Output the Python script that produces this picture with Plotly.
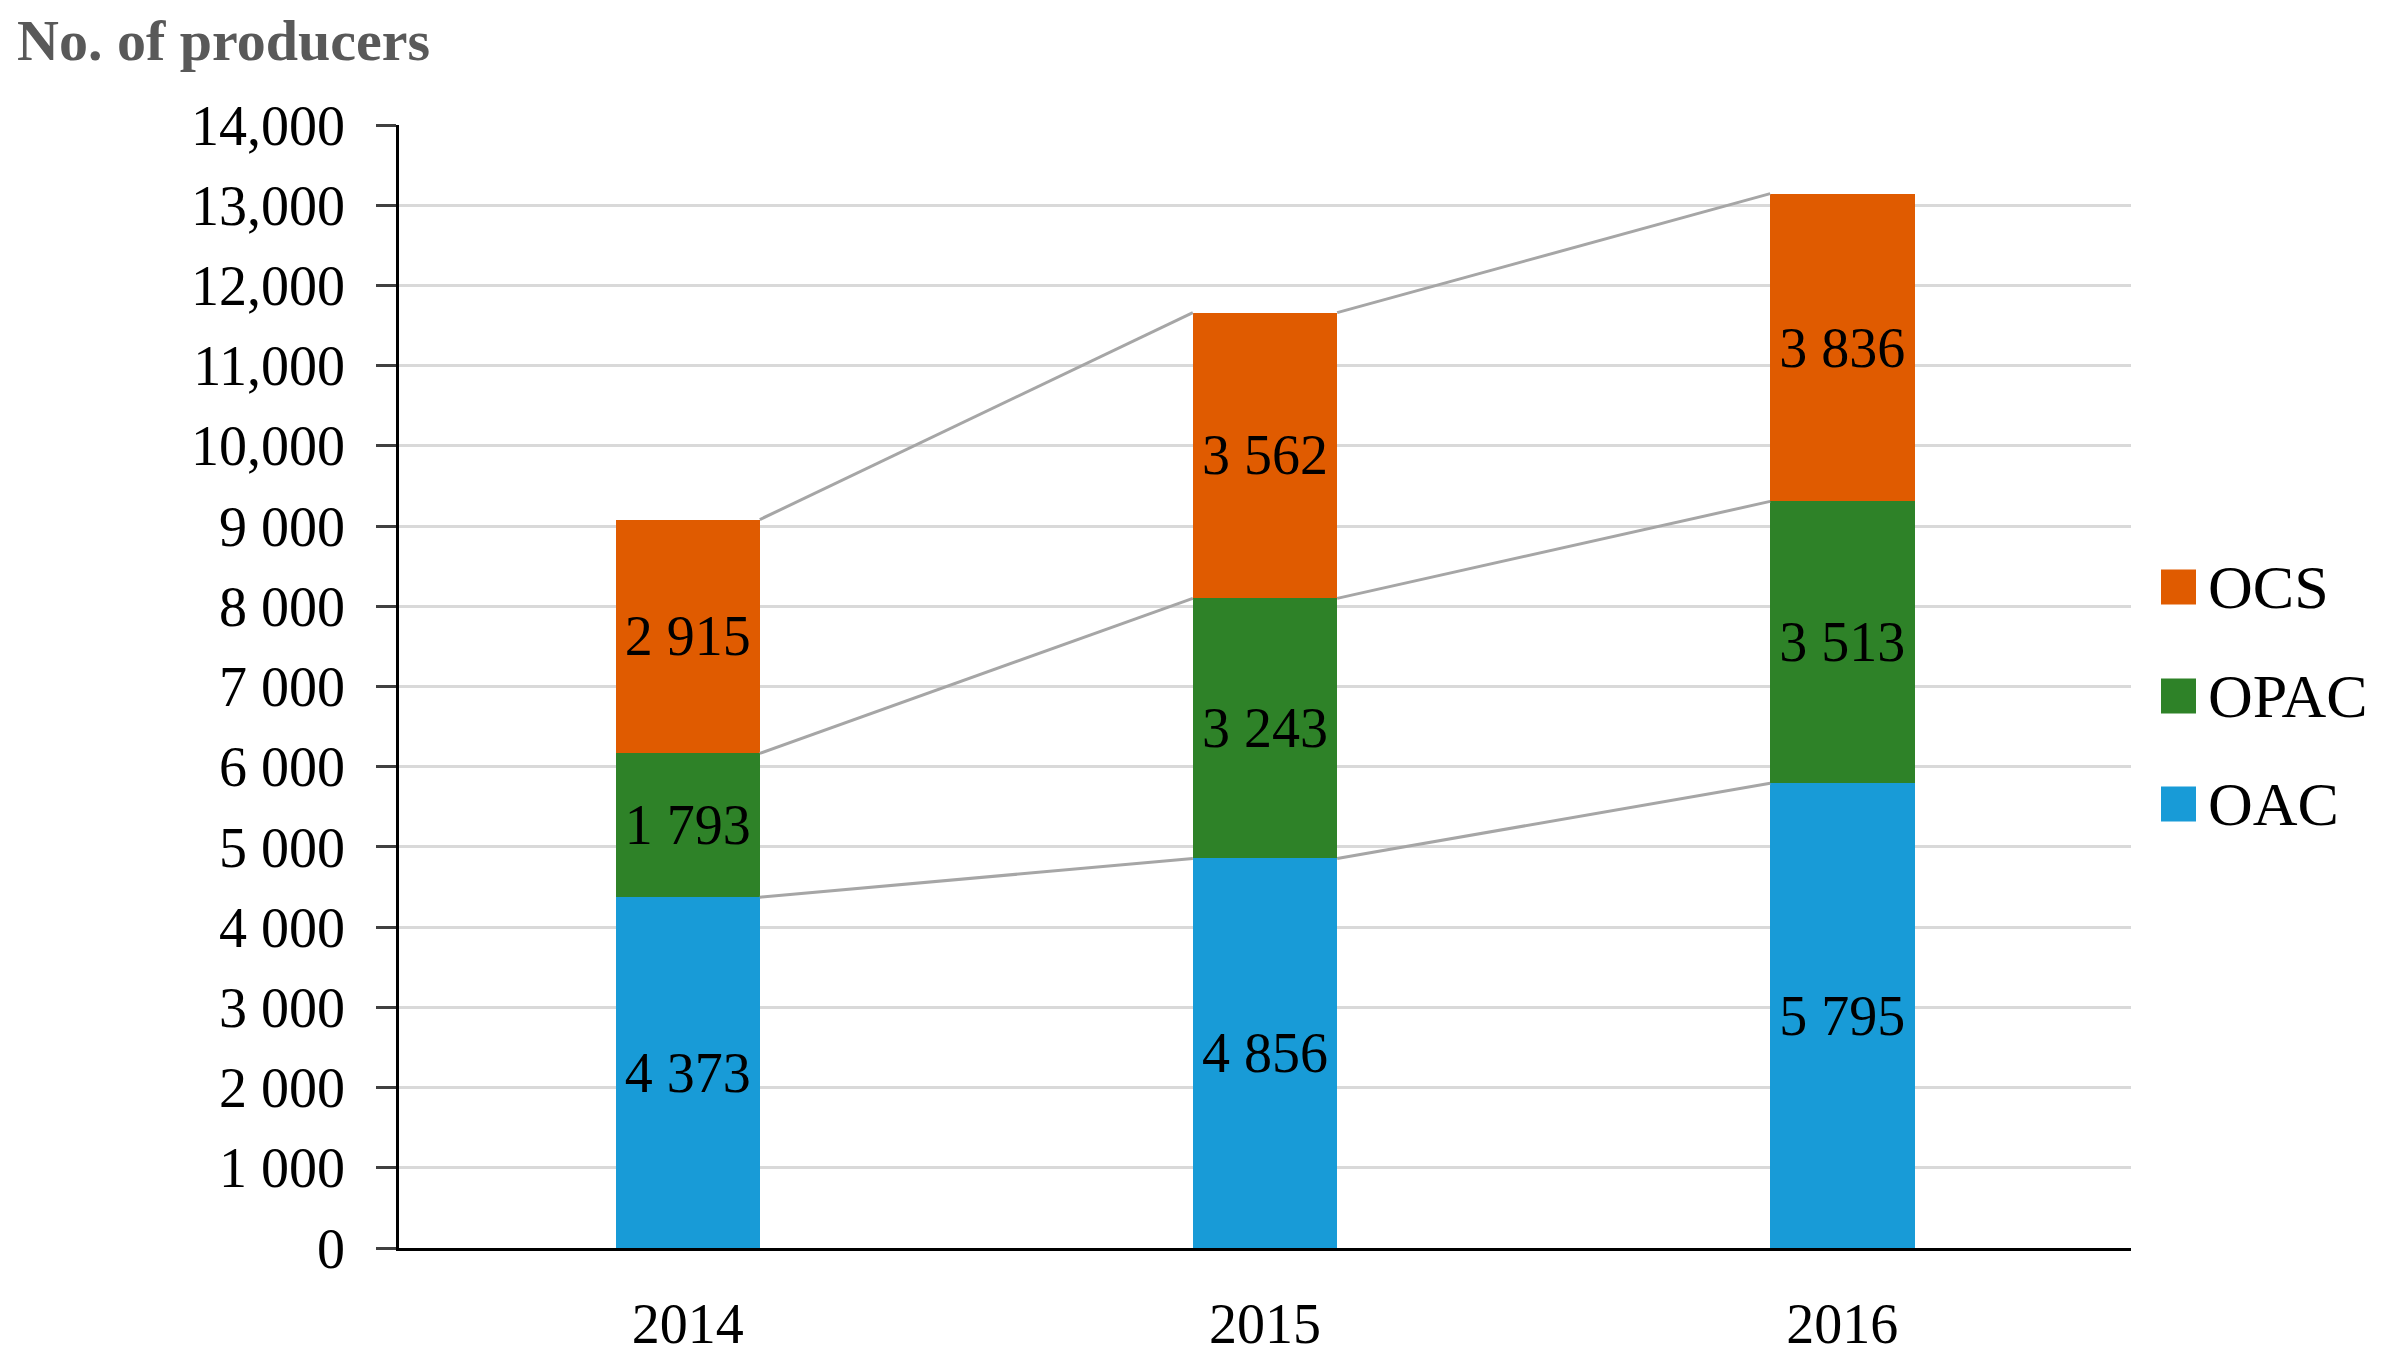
import plotly.graph_objects as go

years = ["2014", "2015", "2016"]
oac = [4373, 4856, 5795]
opac = [1793, 3243, 3513]
ocs = [2915, 3562, 3836]
series_names = ["OAC", "OPAC", "OCS"]
colors = ["#189bd7", "#2e8228", "#e05b00"]
ytick_vals = [0, 1000, 2000, 3000, 4000, 5000, 6000, 7000, 8000, 9000, 10000, 11000, 12000, 13000, 14000]
ytick_text = ["0", "1 000", "2 000", "3 000", "4 000", "5 000", "6 000", "7 000", "8 000", "9 000",
              "10,000", "11,000", "12,000", "13,000", "14,000"]

FONT = "Liberation Serif"
OFF = 8  # page body margin compensation
W, H = 2386 - 2 * OFF, 1371 - 2 * OFF
L, T = 399 - OFF, 125 - OFF
R = 2386 - 2131 - OFF
B = 1371 - 1248 - OFF
PW, PH = W - L - R, H - T - B
BAR_W = 0.25

xpos = list(range(len(years)))
fig = go.Figure()

series = [oac, opac, ocs]
for name, vals, col in zip(series_names, series, colors):
    fig.add_trace(go.Bar(
        x=xpos, y=vals, name=name, width=BAR_W,
        marker=dict(color=col, line=dict(width=0)),
        texttemplate="%{y:,}", textposition="inside", insidetextanchor="middle",
        textangle=0, constraintext="none",
        textfont=dict(family=FONT, size=56, color="black"),
        showlegend=False, hoverinfo="y+name",
    ))

# connector lines between cumulative levels
cum = []
run = [0] * len(years)
for vals in series:
    run = [a + b for a, b in zip(run, vals)]
    cum.append(list(run))
for level in cum:
    for i in range(len(years) - 1):
        fig.add_trace(go.Scatter(
            x=[xpos[i] + BAR_W / 2, xpos[i + 1] - BAR_W / 2],
            y=[level[i], level[i + 1]],
            mode="lines", line=dict(color="#a6a6a6", width=3),
            showlegend=False, hoverinfo="skip",
        ))

# manual legend (large square swatches); positions in reference pixels
legend_centers_px = [587, 696, 804]  # OCS, OPAC, OAC (y from top)
sq = 35
sq_left = 2161
for (name, col), cy in zip(list(zip(series_names, colors))[::-1], legend_centers_px):
    x0 = (sq_left - 399) / PW
    x1 = (sq_left + sq - 399) / PW
    y0 = (1248 - (cy + sq / 2)) / PH
    y1 = (1248 - (cy - sq / 2)) / PH
    fig.add_shape(type="rect", xref="paper", yref="paper", x0=x0, x1=x1, y0=y0, y1=y1,
                  fillcolor=col, line=dict(width=0))
    fig.add_annotation(xref="paper", yref="paper", x=(2206 - 399) / PW, y=(1248 - cy) / PH,
                       xanchor="left", yanchor="middle", text=name, showarrow=False,
                       font=dict(family=FONT, size=62, color="black"))

# title as annotation placed above the plot area
fig.add_annotation(xref="paper", yref="paper", x=(15 - 399) / PW, y=(1248 - 40) / PH,
                   xanchor="left", yanchor="middle", text="<b>No. of producers</b>",
                   showarrow=False, font=dict(family=FONT, size=58, color="#595959"))

fig.update_layout(
    width=W, height=H,
    margin=dict(l=L, r=R, t=T, b=B, autoexpand=False),
    barmode="stack",
    plot_bgcolor="white", paper_bgcolor="white",
    separators=". ",
    font=dict(family=FONT, color="black"),
    showlegend=False,
)
fig.update_xaxes(
    range=[-0.5, len(years) - 0.5], tickmode="array", tickvals=xpos, ticktext=years,
    showgrid=False, zeroline=False, showline=True, linecolor="black", linewidth=2.5,
    ticks="", tickfont=dict(family=FONT, size=56, color="black"), ticklabelstandoff=25,
    automargin=False,
)
fig.update_yaxes(
    range=[0, 14000], tickmode="array", tickvals=ytick_vals, ticktext=ytick_text,
    showgrid=True, gridcolor="#d9d9d9", gridwidth=2.5, zeroline=False,
    showline=True, linecolor="black", linewidth=2.5,
    ticks="outside", ticklen=20, tickwidth=2.5, tickcolor="#404040",
    tickfont=dict(family=FONT, size=56, color="black"), ticklabelstandoff=20,
    automargin=False,
)

fig.write_html("out.html")
